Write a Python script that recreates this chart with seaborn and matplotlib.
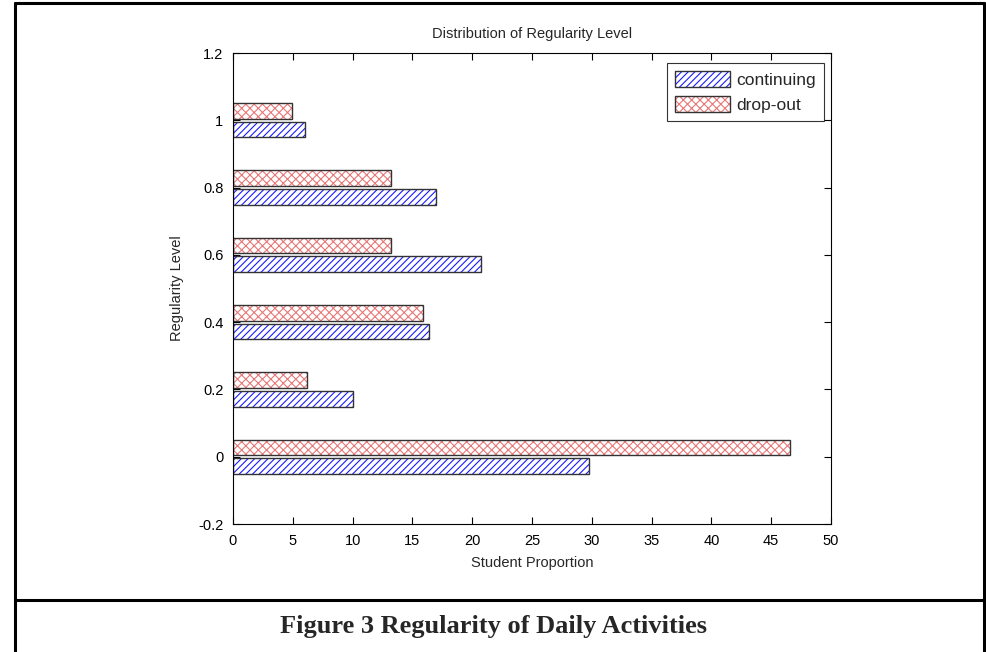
import matplotlib
matplotlib.use("Agg")
import matplotlib.pyplot as plt
import matplotlib.patches as mpatches
from matplotlib.legend_handler import HandlerBase
import pandas as pd
import seaborn as sns

# data
levels = [0.0, 0.2, 0.4, 0.6, 0.8, 1.0]
continuing = [29.8, 10.0, 16.4, 20.7, 17.0, 6.0]
dropout = [46.6, 6.2, 15.9, 13.2, 13.2, 4.9]
groups = ["continuing", "drop-out"]
yticks = [-0.2, 0, 0.2, 0.4, 0.6, 0.8, 1, 1.2]
ytick_labels = ["-0.2", "0", "0.2", "0.4", "0.6", "0.8", "1", "1.2"]
xticks = [0, 5, 10, 15, 20, 25, 30, 35, 40, 45, 50]

df = pd.DataFrame({
    "level": levels * 2,
    "proportion": continuing + dropout,
    "group": [groups[0]] * len(levels) + [groups[1]] * len(levels),
})

sns.set_style("ticks")
plt.rcParams["font.family"] = ["Liberation Sans", "DejaVu Sans"]
plt.rcParams["hatch.linewidth"] = 0.8
plt.rcParams["xtick.direction"] = "in"
plt.rcParams["ytick.direction"] = "in"

hatch_style = {
    "continuing": ("#1a1aff", "/////"),
    "drop-out": ("#e87878", "xxxx"),
}
OUTLINE = "#333333"


class OutlinedHatch(HandlerBase):
    # hatched box with a dark border, like the bars
    def create_artists(self, legend, orig_handle, xdescent, ydescent, width, height, fontsize, trans):
        r1 = mpatches.Rectangle((-xdescent, -ydescent), width, height, facecolor="white",
                                edgecolor=orig_handle.get_edgecolor(), hatch=orig_handle.get_hatch(),
                                linewidth=0, transform=trans)
        r2 = mpatches.Rectangle((-xdescent, -ydescent), width, height, fill=False,
                                edgecolor=OUTLINE, linewidth=1.0, transform=trans)
        return [r1, r2]


fig = plt.figure(figsize=(9.86, 6.52), dpi=100)
ax = fig.add_axes([0.2363, 0.1963, 0.6065, 0.7224])

sns.barplot(data=df, x="proportion", y="level", hue="group", hue_order=groups,
            orient="h", native_scale=True, width=0.55, gap=0.15,
            palette={"continuing": "white", "drop-out": "white"},
            errorbar=None, legend=False, ax=ax)

# hatch in colour, thin dark outline on top
for name, cont in zip(groups, ax.containers):
    col, h = hatch_style[name]
    for p in cont:
        p.set_facecolor("white")
        p.set_edgecolor(col)
        p.set_hatch(h)
        p.set_linewidth(0)
        ax.add_patch(mpatches.Rectangle(p.get_xy(), p.get_width(), p.get_height(),
                                        fill=False, edgecolor=OUTLINE, linewidth=1.0))

ax.set_xlim(0, 50)
ax.set_ylim(-0.2, 1.2)
ax.set_xticks(xticks)
ax.set_yticks(yticks)
ax.set_yticklabels(ytick_labels)
ax.tick_params(top=True, right=True, length=5, width=0.8, labelsize=10.5, colors="black")
ax.tick_params(axis="x", pad=7)
ax.tick_params(axis="y", pad=7)
for s in ax.spines.values():
    s.set_visible(True)
    s.set_color("black")
    s.set_linewidth(0.8)

ax.set_title("Distribution of Regularity Level", fontsize=10.5, pad=11)
ax.set_xlabel("Student Proportion", fontsize=10.5, labelpad=6)
ax.set_ylabel("Regularity Level", fontsize=10.5, labelpad=10)

handles = []
for name in groups:
    col, h = hatch_style[name]
    handles.append(mpatches.Patch(facecolor="white", edgecolor=col, hatch=h, linewidth=0, label=name))
leg = ax.legend(handles=handles, loc="upper right", bbox_to_anchor=(0.988, 0.979),
                borderaxespad=0, fontsize=12.5, handlelength=3.2, handleheight=1.1,
                handletextpad=0.35, labelspacing=0.45, borderpad=0.45,
                frameon=True, fancybox=False, edgecolor="black",
                handler_map={mpatches.Patch: OutlinedHatch()})
leg.get_frame().set_linewidth(0.8)

# page box and caption
W, H = 986, 652
L, R, T = 15 / W, 984 / W, 1 - 3 / H
fig.add_artist(plt.Line2D([L, L], [0, T], color="black", lw=2.2))
fig.add_artist(plt.Line2D([R, R], [0, T], color="black", lw=2.2))
fig.add_artist(plt.Line2D([L, R], [T, T], color="black", lw=2.2))
fig.add_artist(plt.Line2D([L, R], [1 - 600 / H, 1 - 600 / H], color="black", lw=2.2))
fig.text(0.5, 1 - 626 / H, "Figure 3 Regularity of Daily Activities", ha="center", va="center",
         fontsize=19, fontweight="bold", family=["Liberation Serif", "DejaVu Serif"])

fig.savefig("out.png", dpi=100)
